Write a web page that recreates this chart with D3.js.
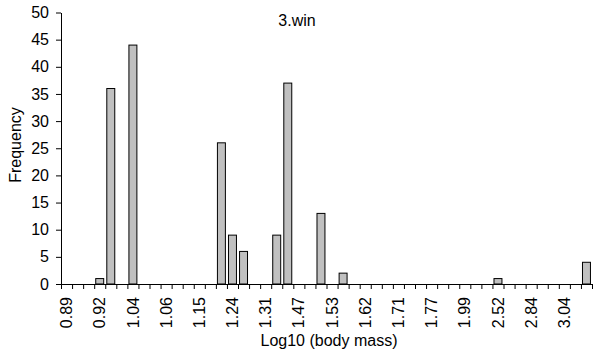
<!DOCTYPE html>
<html>
<head>
<meta charset="utf-8">
<script src="https://cdn.jsdelivr.net/npm/d3@7"></script>
<style>
  body { margin: 0; background: #fff; }
  text { font-family: "Liberation Sans", Arial, sans-serif; fill: #000; }
</style>
</head>
<body>
<script>
// 48 categories, Excel only prints every third label
const tickLabels = ["0.89", "0.92", "1.04", "1.06", "1.15", "1.24", "1.31", "1.47",
                    "1.53", "1.62", "1.71", "1.77", "1.99", "2.52", "2.84", "3.04"];
const nCats = 48;
const catIndex = d3.range(nCats);

// non-zero bars: category index -> frequency
const barCats = [3, 4, 6, 14, 15, 16, 19, 20, 23, 25, 39, 47];
const barValues = [1, 36, 44, 26, 9, 6, 9, 37, 13, 2, 1, 4];

const yTicks = [0, 5, 10, 15, 20, 25, 30, 35, 40, 45, 50];

const W = 596, H = 356;
const plotLeft = 61, plotRight = 592, plotTop = 12.5, plotBottom = 284;

const svg = d3.select('body').append('svg')
  .attr('width', W)
  .attr('height', H);

const x = d3.scaleBand()
  .domain(catIndex)
  .range([plotLeft, plotRight])
  .paddingInner(0.28)
  .paddingOuter(0.14);

const xEdge = d3.scaleLinear().domain([0, nCats]).range([plotLeft, plotRight]);

const y = d3.scaleLinear().domain([0, 50]).range([plotBottom, plotTop]);

// bars
svg.append('g')
  .selectAll('rect')
  .data(barCats)
  .enter()
  .append('rect')
  .attr('x', d => x(d))
  .attr('y', (d, i) => y(barValues[i]))
  .attr('width', x.bandwidth())
  .attr('height', (d, i) => y(0) - y(barValues[i]))
  .attr('fill', '#c0c0c0')
  .attr('stroke', '#000')
  .attr('stroke-width', 1);

// y axis
const gy = svg.append('g')
  .attr('transform', `translate(${plotLeft},0)`)
  .call(d3.axisLeft(y).tickValues(yTicks).tickSize(5).tickSizeOuter(0).tickPadding(7));
gy.selectAll('text').style('font-size', '16px');

// x axis: tick marks on category edges
const gx = svg.append('g')
  .attr('transform', `translate(0,${plotBottom})`)
  .call(d3.axisBottom(xEdge).tickValues(d3.range(nCats + 1)).tickSize(5).tickSizeOuter(0).tickFormat(''));

// x labels, every third category
svg.append('g')
  .selectAll('text')
  .data(tickLabels)
  .enter()
  .append('text')
  .attr('transform', (d, i) => `translate(${x(i * 3) + x.bandwidth() / 2},297) rotate(-90)`)
  .attr('text-anchor', 'end')
  .attr('dy', '0.35em')
  .style('font-size', '16px')
  .text(d => d);

svg.selectAll('.domain, .tick line').attr('stroke', '#000');

// titles
svg.append('text')
  .attr('x', 297)
  .attr('y', 26)
  .attr('text-anchor', 'middle')
  .style('font-size', '16px')
  .text('3.win');

svg.append('text')
  .attr('x', 329)
  .attr('y', 346)
  .attr('text-anchor', 'middle')
  .style('font-size', '16px')
  .text('Log10 (body mass)');

svg.append('text')
  .attr('transform', 'translate(21,145) rotate(-90)')
  .attr('text-anchor', 'middle')
  .style('font-size', '16px')
  .text('Frequency');
</script>
</body>
</html>
